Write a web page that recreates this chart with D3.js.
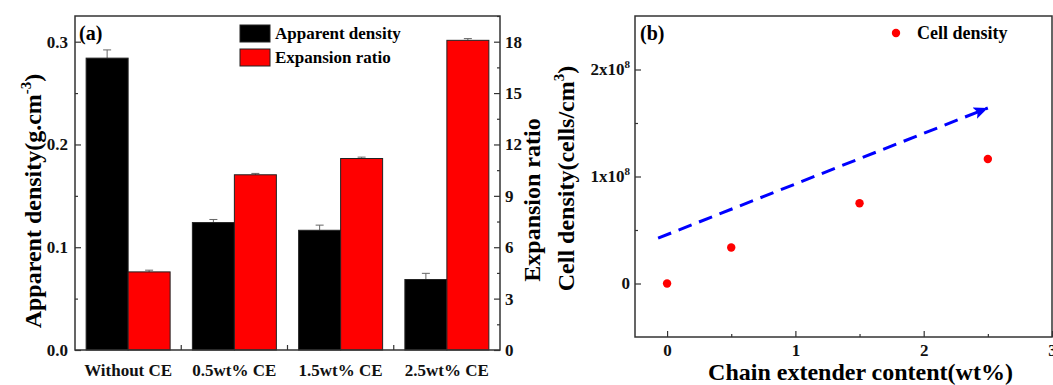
<!DOCTYPE html>
<html>
<head>
<meta charset="utf-8">
<script src="https://cdn.jsdelivr.net/npm/d3@7"></script>
<style>
  body { margin: 0; background: #fff; }
  svg { display: block; font-family: "Times New Roman", "Liberation Serif", serif; font-weight: bold; }
  .axis path { display: none; }
  .axis line { stroke: #333; stroke-width: 1.2; }
  .axis text { fill: #111; font-size: 17px; font-family: "Times New Roman", "Liberation Serif", serif; font-weight: bold; }
</style>
</head>
<body>
<svg id="chart" width="1053" height="385"></svg>
<script>
// panel (a) data
const categories = ['Without CE', '0.5wt% CE', '1.5wt% CE', '2.5wt% CE'];
const apparentDensity = [0.284, 0.124, 0.1165, 0.0686];
const densityErr = [0.008, 0.003, 0.005, 0.006];
const expansionRatio = [4.56, 10.23, 11.18, 18.08];
const ratioErr = [0.1, 0.08, 0.08, 0.1];
const densityTicks = [0, 0.1, 0.2, 0.3];
const ratioTicks = [0, 3, 6, 9, 12, 15, 18];

// panel (b) data
const ceContent = [0, 0.5, 1.5, 2.5];
const cellDensity = [0, 3.36e7, 7.5e7, 1.163e8];
const trendArrow = [[-0.07, 4.24e7], [2.5, 1.64e8]];
const ceTicks = [0, 1, 2, 3];
const cellTicks = [0, 1e8, 2e8];

const svg = d3.select('#chart');

// ---------- panel (a) ----------
const a = { left: 75, right: 500, top: 16, bottom: 350 };

const x0 = d3.scaleBand().domain(categories).range([a.left, a.right]);
const x1 = d3.scaleBand().domain(['density', 'ratio'])
  .range([0, x0.bandwidth()]).paddingOuter(0.265);
const yL = d3.scaleLinear().domain([0, 0.325]).range([a.bottom, a.top]);
const yR = d3.scaleLinear().domain([0, 19.5]).range([a.bottom, a.top]);

const rows = categories.map((c, i) => ({
  cat: c,
  density: apparentDensity[i], dErr: densityErr[i],
  ratio: expansionRatio[i], rErr: ratioErr[i]
}));

const gA = svg.append('g');

// error bars (upper only), drawn under the bars
function errBar(g, xc, yTop, yVal) {
  g.append('line').attr('x1', xc).attr('x2', xc).attr('y1', yTop).attr('y2', yVal)
    .attr('stroke', '#666').attr('stroke-width', 1);
  g.append('line').attr('x1', xc - 4).attr('x2', xc + 4).attr('y1', yTop).attr('y2', yTop)
    .attr('stroke', '#666').attr('stroke-width', 1);
}
rows.forEach(d => {
  const xd = x0(d.cat) + x1('density') + x1.bandwidth() / 2;
  const xr = x0(d.cat) + x1('ratio') + x1.bandwidth() / 2;
  errBar(gA, xd, yL(d.density + d.dErr), yL(d.density));
  errBar(gA, xr, yR(d.ratio + d.rErr), yR(d.ratio));
});

gA.selectAll('.bar-d').data(rows).enter().append('rect')
  .attr('class', 'bar-d')
  .attr('x', d => x0(d.cat) + x1('density'))
  .attr('y', d => yL(d.density))
  .attr('width', x1.bandwidth())
  .attr('height', d => yL(0) - yL(d.density))
  .attr('fill', '#000').attr('stroke', '#222').attr('stroke-width', 1);

gA.selectAll('.bar-r').data(rows).enter().append('rect')
  .attr('class', 'bar-r')
  .attr('x', d => x0(d.cat) + x1('ratio'))
  .attr('y', d => yR(d.ratio))
  .attr('width', x1.bandwidth())
  .attr('height', d => yR(0) - yR(d.ratio))
  .attr('fill', '#ff0000').attr('stroke', '#222').attr('stroke-width', 1);

// axes (ticks point inward)
gA.append('g').attr('class', 'axis')
  .attr('transform', `translate(${a.left},0)`)
  .call(d3.axisLeft(yL).tickValues(densityTicks).tickFormat(d3.format('.1f'))
    .tickSizeInner(-6).tickSizeOuter(0).tickPadding(7));
gA.append('g').attr('class', 'axis')
  .attr('transform', `translate(${a.left},0)`)
  .call(d3.axisLeft(yL).tickValues([0.05, 0.15, 0.25]).tickFormat('')
    .tickSizeInner(-3).tickSizeOuter(0));

gA.append('g').attr('class', 'axis')
  .attr('transform', `translate(${a.right},0)`)
  .call(d3.axisRight(yR).tickValues(ratioTicks).tickFormat(d3.format('d'))
    .tickSizeInner(-6).tickSizeOuter(0).tickPadding(5));
gA.append('g').attr('class', 'axis')
  .attr('transform', `translate(${a.right},0)`)
  .call(d3.axisRight(yR).tickValues([1.5, 4.5, 7.5, 10.5, 13.5, 16.5, 19.5]).tickFormat('')
    .tickSizeInner(-3).tickSizeOuter(0));

gA.append('g').attr('class', 'axis')
  .attr('transform', `translate(0,${a.bottom})`)
  .call(d3.axisBottom(x0).tickSize(0).tickPadding(14));
gA.selectAll('.sep').data(categories.slice(1)).enter().append('line')
  .attr('x1', d => x0(d)).attr('x2', d => x0(d))
  .attr('y1', a.bottom).attr('y2', a.bottom - 5)
  .attr('stroke', '#333').attr('stroke-width', 1.2);

gA.append('rect')
  .attr('x', a.left).attr('y', a.top)
  .attr('width', a.right - a.left).attr('height', a.bottom - a.top)
  .attr('fill', 'none').attr('stroke', '#333').attr('stroke-width', 1.5);

gA.append('text').attr('x', 79).attr('y', 40)
  .attr('font-size', 20).text('(a)');

// legend
const legA = [['Apparent density', '#000'], ['Expansion ratio', '#ff0000']];
legA.forEach((l, i) => {
  gA.append('rect').attr('x', 240).attr('y', 25 + i * 24).attr('width', 30).attr('height', 17)
    .attr('fill', l[1]).attr('stroke', '#222').attr('stroke-width', 1);
  gA.append('text').attr('x', 275).attr('y', 39 + i * 24)
    .attr('font-size', 17).text(l[0]);
});

// axis titles
const tl = gA.append('text')
  .attr('transform', `translate(41,${(a.top + a.bottom) / 2 + 18}) rotate(-90)`)
  .attr('text-anchor', 'middle').attr('font-size', 24);
tl.append('tspan').text('Apparent density(g.cm');
tl.append('tspan').attr('font-size', 15).attr('dy', -10).text('-3');
tl.append('tspan').attr('dy', 10).text(')');

gA.append('text')
  .attr('transform', `translate(540,${(a.top + a.bottom) / 2 + 17}) rotate(-90)`)
  .attr('text-anchor', 'middle').attr('font-size', 24)
  .text('Expansion ratio');

// ---------- panel (b) ----------
const b = { left: 635, right: 1052, top: 16, bottom: 337 };
const xB = d3.scaleLinear().domain([-0.25, 3]).range([b.left, b.right]);
const yB = d3.scaleLinear().domain([-0.5e8, 2.5e8]).range([b.bottom, b.top]);

const gB = svg.append('g');

gB.append('g').attr('class', 'axis')
  .attr('transform', `translate(0,${b.bottom})`)
  .call(d3.axisBottom(xB).tickValues(ceTicks).tickFormat(d3.format('d'))
    .tickSizeInner(-6).tickSizeOuter(0).tickPadding(7));
gB.append('g').attr('class', 'axis')
  .attr('transform', `translate(0,${b.bottom})`)
  .call(d3.axisBottom(xB).tickValues([0.5, 1.5, 2.5]).tickFormat('')
    .tickSizeInner(-3).tickSizeOuter(0));

const yAxB = gB.append('g').attr('class', 'axis')
  .attr('transform', `translate(${b.left},0)`)
  .call(d3.axisLeft(yB).tickValues(cellTicks).tickFormat('')
    .tickSizeInner(-6).tickSizeOuter(0).tickPadding(5));
yAxB.selectAll('.tick').each(function (d) {
  const t = d3.select(this).select('text');
  if (d === 0) { t.text('0'); return; }
  t.append('tspan').text(`${d / 1e8}x10`);
  t.append('tspan').attr('font-size', 11).attr('dy', -7).text('8');
});
gB.append('g').attr('class', 'axis')
  .attr('transform', `translate(${b.left},0)`)
  .call(d3.axisLeft(yB).tickValues([0.5e8, 1.5e8]).tickFormat('')
    .tickSizeInner(-3).tickSizeOuter(0));

gB.append('rect')
  .attr('x', b.left).attr('y', b.top)
  .attr('width', b.right - b.left).attr('height', b.bottom - b.top)
  .attr('fill', 'none').attr('stroke', '#333').attr('stroke-width', 1.5);

// trend arrow
svg.append('defs').append('marker')
  .attr('id', 'head').attr('markerUnits', 'userSpaceOnUse')
  .attr('markerWidth', 16).attr('markerHeight', 12)
  .attr('refX', 14).attr('refY', 6).attr('orient', 'auto')
  .append('path').attr('d', 'M0,0 L14,6 L0,12 L3,6 Z').attr('fill', '#0000ff');

gB.append('line')
  .attr('x1', xB(trendArrow[0][0])).attr('y1', yB(trendArrow[0][1]))
  .attr('x2', xB(trendArrow[1][0])).attr('y2', yB(trendArrow[1][1]))
  .attr('stroke', '#0000ff').attr('stroke-width', 3)
  .attr('stroke-dasharray', '14,8')
  .attr('marker-end', 'url(#head)');

gB.selectAll('.pt').data(ceContent).enter().append('circle')
  .attr('class', 'pt')
  .attr('cx', d => xB(d))
  .attr('cy', (d, i) => yB(cellDensity[i]))
  .attr('r', 4.2).attr('fill', '#ff0000');

gB.append('text').attr('x', 640).attr('y', 40)
  .attr('font-size', 20).text('(b)');

gB.append('circle').attr('cx', 896).attr('cy', 33).attr('r', 4.2).attr('fill', '#ff0000');
gB.append('text').attr('x', 917).attr('y', 39).attr('font-size', 18).text('Cell density');

const tr = gB.append('text')
  .attr('transform', `translate(574,${(b.top + b.bottom) / 2 + 2}) rotate(-90)`)
  .attr('text-anchor', 'middle').attr('font-size', 24);
tr.append('tspan').text('Cell density(cells/cm');
tr.append('tspan').attr('font-size', 15).attr('dy', -10).text('3');
tr.append('tspan').attr('dy', 10).text(')');

gB.append('text')
  .attr('x', (b.left + b.right) / 2 + 17).attr('y', 380)
  .attr('text-anchor', 'middle').attr('font-size', 24)
  .text('Chain extender content(wt%)');
</script>
</body>
</html>
